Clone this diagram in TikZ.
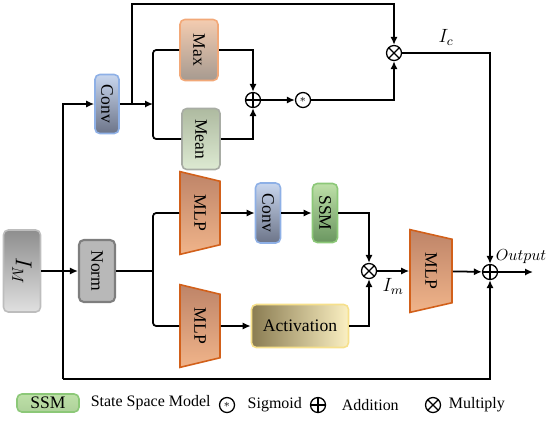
\documentclass[tikz,border=0pt]{standalone}
\usepackage{fontspec}
\setmainfont{Liberation Serif}
\usetikzlibrary{arrows.meta,shapes.geometric}
\newcommand\unitpx{0.022cm}
\newcommand\vtext[1]{\rotatebox{-90}{#1}}
\definecolor{convtop}{HTML}{C8D6EE}
\definecolor{convbot}{HTML}{6C7488}
\definecolor{convline}{HTML}{8EB0E6}
\definecolor{maxtop}{HTML}{F4CCB0}
\definecolor{maxbot}{HTML}{A69A90}
\definecolor{maxline}{HTML}{F2A878}
\definecolor{meantop}{HTML}{AEBAA0}
\definecolor{meanbot}{HTML}{DDEAD2}
\definecolor{meanline}{HTML}{A8ACA4}
\definecolor{ssmtop}{HTML}{BEE0A8}
\definecolor{ssmbot}{HTML}{6A9660}
\definecolor{ssmline}{HTML}{8CC878}
\definecolor{mlptop}{HTML}{BE8468}
\definecolor{mlpbot}{HTML}{F0B48A}
\definecolor{mlpline}{HTML}{D2601A}
\definecolor{normfill}{HTML}{B8B8B8}
\definecolor{normline}{HTML}{7E7E7E}
\definecolor{imtop}{HTML}{8E8E8E}
\definecolor{imbot}{HTML}{E0E0E0}
\definecolor{imline}{HTML}{BDBDBD}
\definecolor{actleft}{HTML}{8A7C52}
\definecolor{actright}{HTML}{FBF0C2}
\definecolor{actline}{HTML}{F6E08C}
\tikzset{
  box/.style={draw, rounded corners=3pt, line width=1pt, inner sep=1pt, font=\fontsize{11}{13}\selectfont},
  mlpbox/.style={trapezium, trapezium angle=68, trapezium stretches=true, shape border rotate=270,
    draw=mlpline, line width=1pt, top color=mlptop, bottom color=mlpbot,
    minimum width=83*\unitpx, minimum height=40*\unitpx, inner sep=1pt,
    font=\fontsize{11}{13}\selectfont},
  opnode/.style={circle, draw, line width=0.8pt, minimum size=15*\unitpx, inner sep=0pt},
  addop/.style={opnode, path picture={
    \draw[line width=0.8pt] (path picture bounding box.north) -- (path picture bounding box.south)
      (path picture bounding box.west) -- (path picture bounding box.east);}},
  mulop/.style={opnode, path picture={
    \draw[line width=0.8pt] (path picture bounding box.north west) -- (path picture bounding box.south east)
      (path picture bounding box.south west) -- (path picture bounding box.north east);}},
  sigop/.style={opnode, font=\scriptsize},
  arr/.style={-{Latex[length=5pt,width=4.5pt]}},
}
\begin{document}
\begin{tikzpicture}[x=\unitpx, y=-\unitpx, line width=1.1pt]
  \useasboundingbox (0,0) rectangle (550,424);
  % inputs
  \node[box, draw=imline, top color=imtop, bottom color=imbot, minimum width=37*\unitpx, minimum height=82*\unitpx, font=\Large] (IM) at (22,271) {\vtext{$I_M$}};
  \node[box, draw=normline, fill=normfill, line width=1.3pt, minimum width=36*\unitpx, minimum height=62*\unitpx] (norm) at (97,271) {\vtext{Norm}};
  % channel branch
  \node[box, draw=convline, top color=convtop, bottom color=convbot, minimum width=24*\unitpx, minimum height=59*\unitpx] (conv1) at (107,104) {\vtext{Conv}};
  \node[box, draw=maxline, top color=maxtop, bottom color=maxbot, minimum width=38*\unitpx, minimum height=61*\unitpx] (max) at (199,50) {\vtext{Max}};
  \node[box, draw=meanline, top color=meantop, bottom color=meanbot, minimum width=38*\unitpx, minimum height=61*\unitpx] (mean) at (201,139) {\vtext{Mean}};
  \node[addop] (plus1) at (253,100) {};
  \node[sigop] (sig) at (303,100) {$*$};
  \node[mulop] (mul1) at (394,53) {};
  % mamba branch
  \node[mlpbox] (mlp1) at (200,213) {\vtext{MLP}};
  \node[box, draw=convline, top color=convtop, bottom color=convbot, minimum width=25*\unitpx, minimum height=60*\unitpx] (conv2) at (268,213) {\vtext{Conv}};
  \node[box, draw=ssmline, top color=ssmtop, bottom color=ssmbot, minimum width=25*\unitpx, minimum height=59*\unitpx] (ssm) at (325,213) {\vtext{SSM}};
  \node[mlpbox] (mlp2) at (200,326) {\vtext{MLP}};
  \node[box, draw=actline, left color=actleft, right color=actright, minimum width=97*\unitpx, minimum height=43*\unitpx] (act) at (300,326) {Activation};
  \node[mulop] (mul2) at (369,271) {};
  \node[mlpbox, minimum height=42*\unitpx] (mlp3) at (431,271) {\vtext{MLP}};
  \node[addop] (add) at (490,272) {};
  \node (outlbl) at (521,257) {$Output$};
  \coordinate (bot) at (63,379);
  \coordinate (branch) at (132,104);
  \coordinate (top) at (132,4);
  \coordinate (split1) at (153,104);
  \coordinate (split2) at (153,271);
  \coordinate (rc) at (490,53);
  \coordinate (out) at (533,272);
  % connectors
  \draw[arr] (IM) -- (norm);
  \draw[arr] (bot) |- (conv1);
  \draw[arr] (bot) -| (add);
  \draw[arr] (conv1) -- (split1);
  \draw[arr] (branch) -- (top) -| (mul1);
  \draw[rounded corners=2pt] (max) -| (split1) |- (mean);
  \draw[arr] (max) -| (plus1);
  \draw[arr] (mean) -| (plus1);
  \draw[arr] (plus1) -- (sig);
  \draw[arr] (sig) -| (mul1);
  \draw[arr] (mul1) -- node[above=1pt, font=\large] {$I_c$} (rc) -- (add);
  \draw (norm) -- (split2);
  \draw[rounded corners=2pt] (mlp1) -| (split2) |- (mlp2);
  \draw[arr] (mlp1) -- (conv2);
  \draw[arr] (conv2) -- (ssm);
  \draw[arr] (ssm) -| (mul2);
  \draw[arr] (mlp2) -- (act);
  \draw[arr] (act) -| (mul2);
  \draw[arr] (mul2) -- node[below=1pt, font=\large] {$I_m$} (mlp3);
  \draw[arr] (mlp3) -- (add);
  \draw[arr] (add) -- (out);
  % legend
  \node[box, draw=ssmline, top color=ssmtop, bottom color=ssmtop!80!ssmbot, minimum width=62*\unitpx, minimum height=18*\unitpx] (legssm) at (48,403) {SSM};
  \node[right=3pt] (legssmtxt) at (legssm.east) {State Space Model};
  \node[sigop] (legsig) at (227,405) {$*$};
  \node[right=4pt] (legsigtxt) at (legsig.east) {Sigmoid};
  \node[addop] (legadd) at (318,405) {};
  \node[right=6pt] (legaddtxt) at (legadd.east) {Addition};
  \node[mulop] (legmul) at (433,405) {};
  \node[right=1pt] (legmultxt) at (legmul.east) {Multiply};
\end{tikzpicture}
\end{document}
